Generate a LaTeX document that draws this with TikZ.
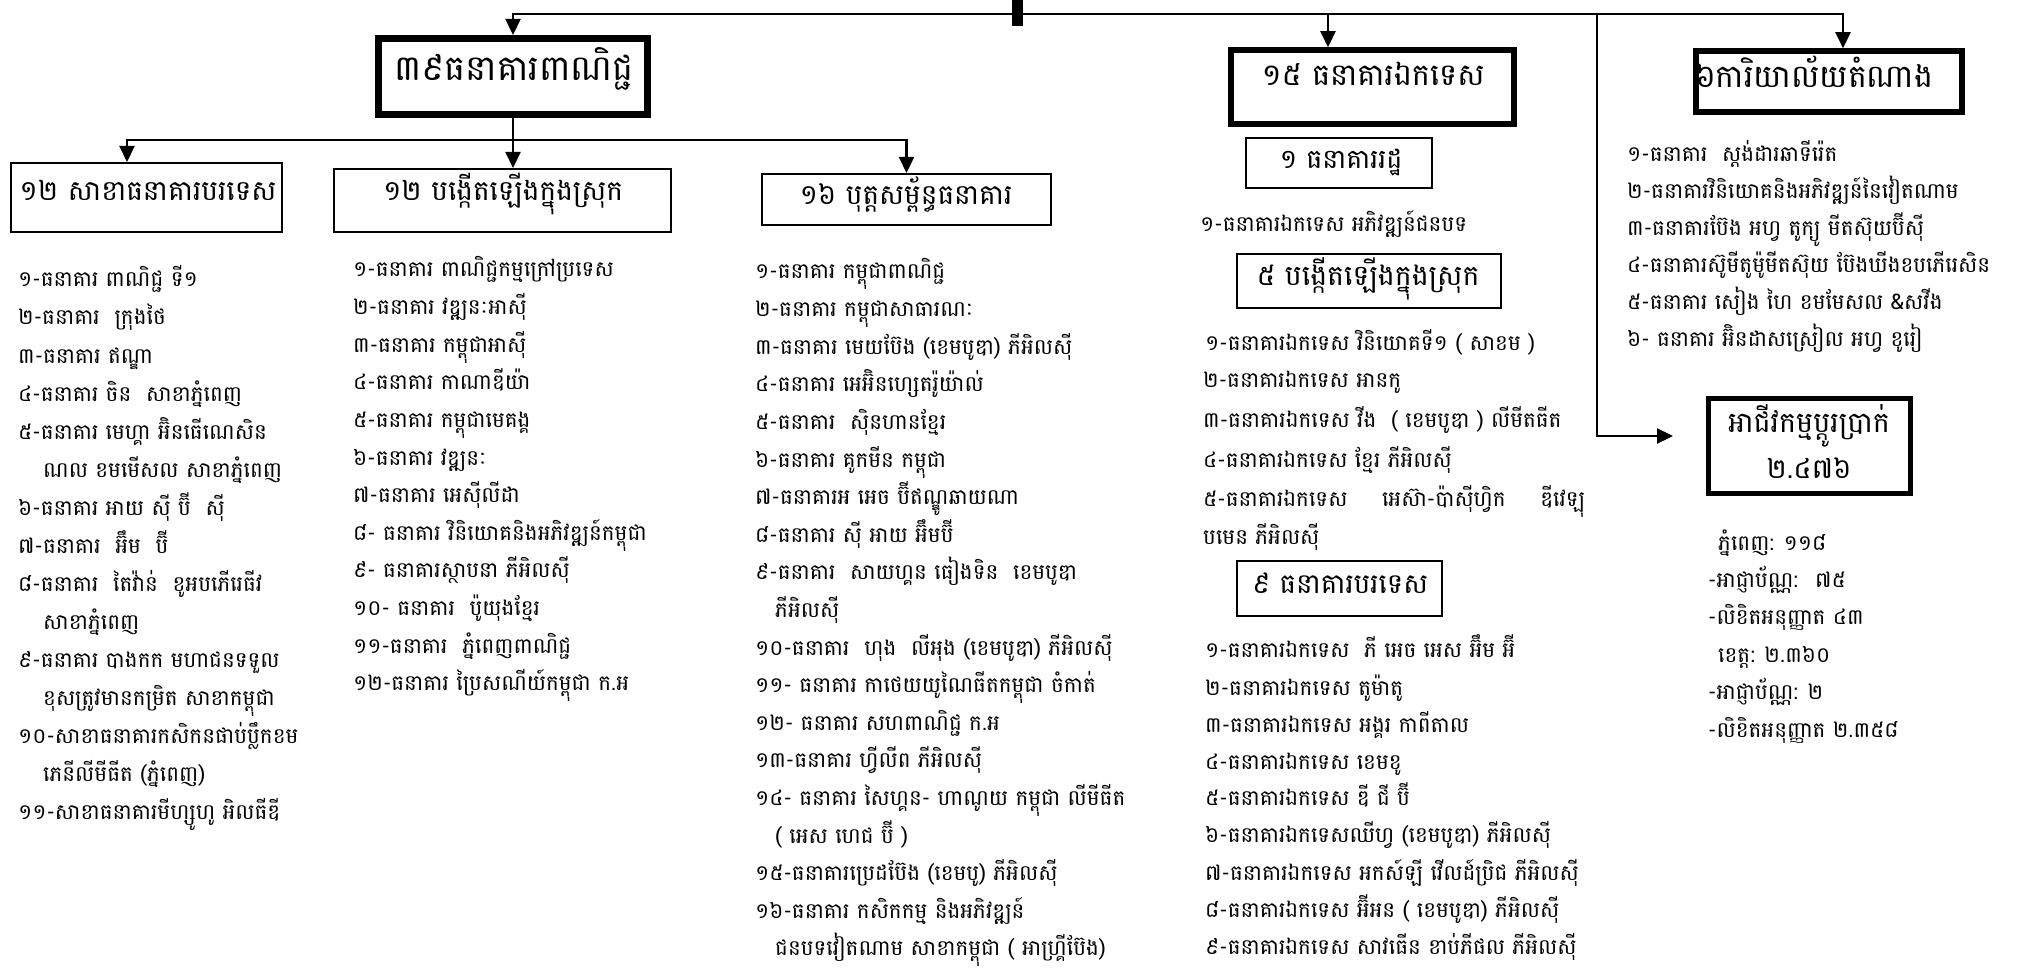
\documentclass[tikz,border=0pt]{standalone}
\usepackage{fontspec}
\usetikzlibrary{arrows.meta}
\newfontfamily\kh[Script=Khmer]{Battambang}
\begin{document}
\begin{tikzpicture}[x=1pt,y=-1pt,
  conn/.style={line width=2.2pt},
  arr/.style={line width=2.2pt,-{Triangle[length=16pt,width=15pt]}},
  thinbox/.style={draw,line width=2pt,inner sep=0pt},
  thickbox/.style={draw,line width=7pt,inner sep=0pt},
  midbox/.style={draw,line width=5.5pt,inner sep=0pt},
  item/.style={anchor=base west,inner sep=0pt,yshift=-7pt,font=\kh\fontsize{21.5}{25}\selectfont},
  ttl/.style={anchor=base,inner sep=0pt,yshift=-8pt,font=\kh}]
\fill[white] (0,0) rectangle (2028,973);
\useasboundingbox (0,0) rectangle (2028,973);

% boxes
\node[thickbox,minimum width=269,minimum height=76] (A) at (513,76.5) {};
\node[thinbox,minimum width=271,minimum height=69] (B1) at (146.5,197.5) {};
\node[thinbox,minimum width=337,minimum height=63] (B2) at (502.5,200.5) {};
\node[thinbox,minimum width=289,minimum height=51] (B3) at (906.5,199.5) {};
\node[midbox,minimum width=283,minimum height=74] (E) at (1372.5,87) {};
\node[thinbox,minimum width=186,minimum height=50] (R) at (1339,163) {};
\node[thinbox,minimum width=264,minimum height=54] (D) at (1369,281) {};
\node[thinbox,minimum width=205,minimum height=55] (G) at (1339.5,588.5) {};
\node[midbox,minimum width=266,minimum height=61] (F) at (1829,81.5) {};
\node[midbox,minimum width=202,minimum height=95] (X) at (1809.5,446) {};

% titles
\node[ttl] (At) at (514,73) {\resizebox{239pt}{!}{\kh ៣៩ធនាគារពាណិជ្ជ}};
\node[ttl] (B1t) at (148,193) {\resizebox{257pt}{!}{\kh ១២ សាខាធនាគារបរទេស}};
\node[ttl] (B2t) at (503,193) {\resizebox{240pt}{!}{\kh ១២ បង្កើតឡើងក្នុងស្រុក}};
\node[ttl] (B3t) at (906,197) {\resizebox{213pt}{!}{\kh ១៦ បុត្តសម្ព័ន្ធធនាគារ}};
\node[ttl] (Et) at (1373,78) {\resizebox{223pt}{!}{\kh ១៥ ធនាគារឯកទេស}};
\node[ttl] (Rt) at (1341,161) {\resizebox{123pt}{!}{\kh ១ ធនាគាររដ្ឋ}};
\node[ttl] (Dt) at (1368,278) {\resizebox{223pt}{!}{\kh ៥ បង្កើតឡើងក្នុងស្រុក}};
\node[ttl] (Gt) at (1340,585) {\resizebox{176pt}{!}{\kh ៩ ធនាគារបរទេស}};
\node[ttl] (Ft) at (1814,80) {\resizebox{238pt}{!}{\kh ៦ការិយាល័យតំណាង}};
\node[ttl] (Xt1) at (1809,424) {\resizebox{162pt}{!}{\kh អាជីវកម្មប្តូរប្រាក់}};
\node[ttl] (Xt2) at (1809,470) {\resizebox{85pt}{!}{\kh ២.៤៧៦}};

% connectors
\draw[line width=11pt] (1017,0) -- (1017,26);
\coordinate (top) at (1017,14);
\coordinate (eX) at (1328,0);
\coordinate (fX) at (1843,0);
\coordinate (vb) at (1597,14);
\coordinate (xEnd) at (1673,436);
\coordinate (hb) at (513,140);
\coordinate (b1X) at (127,0);
\draw[arr] (top) -| (A.north);
\draw[arr] (top) -| (eX |- E.north);
\draw[arr] (top) -| (fX |- F.north);
\draw[arr] (vb) |- (xEnd);
\draw[arr] (A.south) -- (A.south |- B2.north);
\draw[arr] (hb) -| (b1X |- B1.north);
\draw[arr] (hb) -| (B3.north);

% column 1
\node[item] (c1a) at (18,280) {១-ធនាគារ ពាណិជ្ជ ទី១};
\node[item] (c1b) at (18,318) {២-ធនាគារ~ ក្រុងថៃ};
\node[item] (c1c) at (18,356) {៣-ធនាគារ ឥណ្ឌា};
\node[item] (c1d) at (18,394) {៤-ធនាគារ ចិន~ សាខាភ្នំពេញ};
\node[item] (c1e) at (18,432) {៥-ធនាគារ មេហ្គា អ៊ិនធើណេសិន};
\node[item] (c1f) at (43,470) {ណល ខមមើសល សាខាភ្នំពេញ};
\node[item] (c1g) at (18,508) {៦-ធនាគារ អាយ ស៊ី ប៊ី~ ស៊ី};
\node[item] (c1h) at (18,546) {៧-ធនាគារ~ អ៊ឹម~ ប៊ី};
\node[item] (c1i) at (18,584) {៨-ធនាគារ~ តៃវ៉ាន់~ ខូអបភើរេធីវ};
\node[item] (c1j) at (43,622) {សាខាភ្នំពេញ};
\node[item] (c1k) at (18,660) {៩-ធនាគារ បាងកក មហាជនទទួល};
\node[item] (c1l) at (43,698) {ខុសត្រូវមានកម្រិត សាខាកម្ពុជា};
\node[item] (c1m) at (18,736) {១០-សាខាធនាគារកសិកនផាប់ប្លឹកខម};
\node[item] (c1n) at (43,774) {ភេនីលីមីធីត (ភ្នំពេញ)};
\node[item] (c1o) at (18,812) {១១-សាខាធនាគារមីហ្សូហូ អិលធីឌី};

% column 2
\node[item] (c2a) at (353,270) {១-ធនាគារ ពាណិជ្ជកម្មក្រៅប្រទេស};
\node[item] (c2b) at (353,307.6) {២-ធនាគារ វឌ្ឍនៈអាស៊ី};
\node[item] (c2c) at (353,345.2) {៣-ធនាគារ កម្ពុជាអាស៊ី};
\node[item] (c2d) at (353,382.8) {៤-ធនាគារ កាណាឌីយ៉ា};
\node[item] (c2e) at (353,420.4) {៥-ធនាគារ កម្ពុជាមេគង្គ};
\node[item] (c2f) at (353,458) {៦-ធនាគារ វឌ្ឍនៈ};
\node[item] (c2g) at (353,495.6) {៧-ធនាគារ អេស៊ីលីដា};
\node[item] (c2h) at (353,533.2) {៨- ធនាគារ វិនិយោគនិងអភិវឌ្ឍន៍កម្ពុជា};
\node[item] (c2i) at (353,570.8) {៩- ធនាគារស្ថាបនា ភីអិលស៊ី};
\node[item] (c2j) at (353,608.4) {១០- ធនាគារ~ ប៉ូយុងខ្មែរ};
\node[item] (c2k) at (353,646) {១១-ធនាគារ~ ភ្នំពេញពាណិជ្ជ};
\node[item] (c2l) at (353,683.6) {១២-ធនាគារ ប្រៃសណីយ៍កម្ពុជា ក.អ};

% column 3
\node[item] (c3a) at (755,272) {១-ធនាគារ កម្ពុជាពាណិជ្ជ};
\node[item] (c3b) at (755,309.6) {២-ធនាគារ កម្ពុជាសាធារណៈ};
\node[item] (c3c) at (755,347.2) {៣-ធនាគារ មេយប៊ែង (ខេមបូឌា) ភីអិលស៊ី};
\node[item] (c3d) at (755,384.8) {៤-ធនាគារ អេអ៊ិនហ្សេតរ៉ូយ៉ាល់};
\node[item] (c3e) at (755,422.4) {៥-ធនាគារ~ ស៊ិនហានខ្មែរ};
\node[item] (c3f) at (755,460) {៦-ធនាគារ គូកមីន កម្ពុជា};
\node[item] (c3g) at (755,497.6) {៧-ធនាគារអ អេច ប៊ីឥណ្ឌូឆាយណា};
\node[item] (c3h) at (755,535.2) {៨-ធនាគារ ស៊ី អាយ អ៊ឹមប៊ី};
\node[item] (c3i) at (755,572.8) {៩-ធនាគារ~ សាយហ្គន ធៀងទិន~ ខេមបូឌា};
\node[item] (c3j) at (775,610.4) {ភីអិលស៊ី};
\node[item] (c3k) at (755,648) {១០-ធនាគារ~ ហុង~ លីអុង (ខេមបូឌា) ភីអិលស៊ី};
\node[item] (c3l) at (755,685.6) {១១- ធនាគារ កាថេយយូណៃធីតកម្ពុជា ចំកាត់};
\node[item] (c3m) at (755,723.2) {១២- ធនាគារ សហពាណិជ្ជ ក.អ};
\node[item] (c3n) at (755,760.8) {១៣-ធនាគារ ហ្វីលីព ភីអិលស៊ី};
\node[item] (c3o) at (755,798.4) {១៤- ធនាគារ សៃហ្គន- ហាណូយ កម្ពុជា លីមីធីត};
\node[item] (c3p) at (775,836) {( អេស ហេជ ប៊ី )};
\node[item] (c3q) at (755,873.6) {១៥-ធនាគារប្រេដប៊ែង (ខេមបូ) ភីអិលស៊ី};
\node[item] (c3r) at (755,911.2) {១៦-ធនាគារ កសិកកម្ម និងអភិវឌ្ឍន៍};
\node[item] (c3s) at (775,948.8) {ជនបទវៀតណាម សាខាកម្ពុជា ( អាហ្គ្រីប៊ែង)};

% column 4
\node[item] (c4a) at (1200,225) {១-ធនាគារឯកទេស អភិវឌ្ឍន៍ជនបទ};
\node[item] (c4b) at (1205,343) {១-ធនាគារឯកទេស វិនិយោគទី១ ( សាខម )};
\node[item] (c4c) at (1203,380) {២-ធនាគារឯកទេស អានកូ};
\node[item] (c4d) at (1203,420) {៣-ធនាគារឯកទេស វីង~ ( ខេមបូឌា ) លីមីតធីត};
\node[item] (c4e) at (1203,460) {៤-ធនាគារឯកទេស ខ្មែរ ភីអិលស៊ី};
\node[item] (c4f) at (1203,499) {\hbox to 382pt{៥-ធនាគារឯកទេស\hfill អេស៊ា-ប៉ាស៊ីហ្វិក\hfill ឌីវេឡុ}};
\node[item] (c4g) at (1203,537) {បមេន ភីអិលស៊ី};
\node[item] (c4h) at (1205,650) {១-ធនាគារឯកទេស~ ភី អេច អេស អ៊ឹម អ៊ី};
\node[item] (c4i) at (1205,688) {២-ធនាគារឯកទេស តូម៉ាតូ};
\node[item] (c4j) at (1205,725) {៣-ធនាគារឯកទេស អង្គរ កាពីតាល};
\node[item] (c4k) at (1205,762) {៤-ធនាគារឯកទេស ខេមខូ};
\node[item] (c4l) at (1205,798) {៥-ធនាគារឯកទេស ឌី ជី ប៊ី};
\node[item] (c4m) at (1205,835) {៦-ធនាគារឯកទេសឈីហ្វ (ខេមបូឌា) ភីអិលស៊ី};
\node[item] (c4n) at (1205,873) {៧-ធនាគារឯកទេស អកស៍ឡី វើលដ៍ប្រិជ ភីអិលស៊ី};
\node[item] (c4o) at (1205,910) {៨-ធនាគារឯកទេស អ៊ីអន ( ខេមបូឌា) ភីអិលស៊ី};
\node[item] (c4p) at (1205,947) {៩-ធនាគារឯកទេស សាវធើន ខាប់ភីផល ភីអិលស៊ី};

% column 5
\node[item] (c5a) at (1627,155) {១-ធនាគារ~ ស្តង់ដារឆាទីរ៉េត};
\node[item] (c5b) at (1627,192) {២-ធនាគារវិនិយោគនិងអភិវឌ្ឍន៍នៃវៀតណាម};
\node[item] (c5c) at (1627,229) {៣-ធនាគារប៊ែង អហ្វ តូក្យូ មីតស៊ុយប៊ីស៊ី};
\node[item] (c5d) at (1627,266) {៤-ធនាគារស៊ូមីតូម៉ូមីតស៊ុយ ប៊ែងឃីងខបភើរេសិន};
\node[item] (c5e) at (1627,303) {៥-ធនាគារ សៀង ហៃ ខមមែសល \&សវីង};
\node[item] (c5f) at (1627,340) {៦- ធនាគារ អ៊ិនដាសស្រៀល អហ្វ ខូរៀ};

% exchange
\node[item] (x1) at (1718,543) {ភ្នំពេញ: ១១៨};
\node[item] (x2) at (1708,580.4) {-អាជ្ញាប័ណ្ណ:~ ៧៥};
\node[item] (x3) at (1708,617.8) {-លិខិតអនុញ្ញាត ៤៣};
\node[item] (x4) at (1718,655.2) {ខេត្ត: ២.៣៦០};
\node[item] (x5) at (1708,692.6) {-អាជ្ញាប័ណ្ណ: ២};
\node[item] (x6) at (1708,730) {-លិខិតអនុញ្ញាត ២.៣៥៨};
\end{tikzpicture}
\end{document}
